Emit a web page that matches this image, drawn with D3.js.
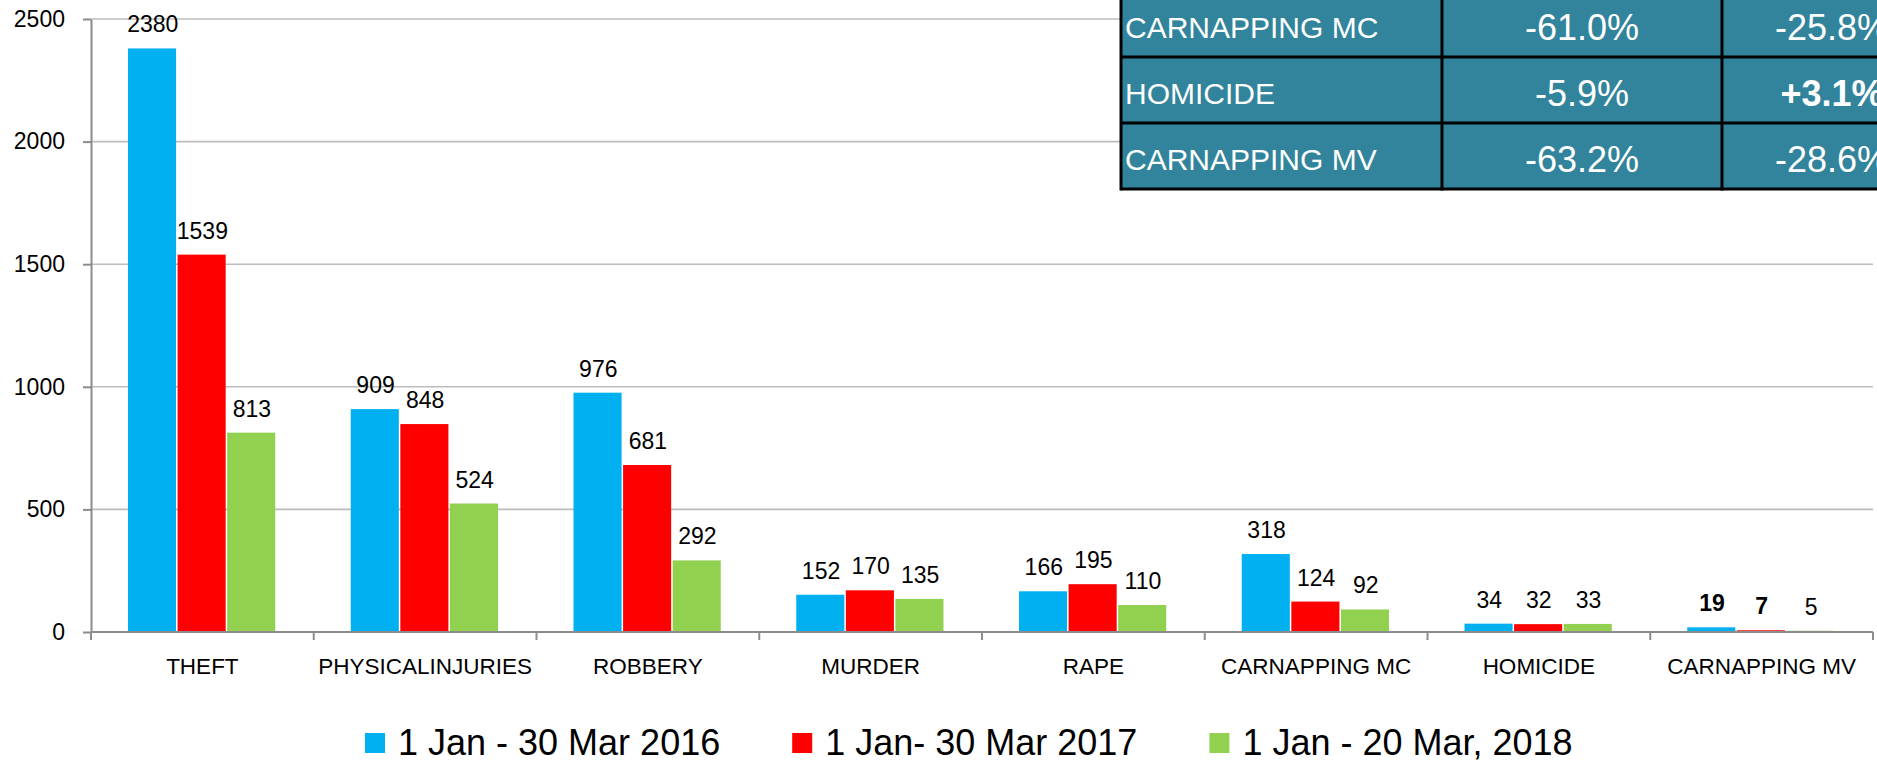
<!DOCTYPE html>
<html>
<head>
<meta charset="utf-8">
<script src="https://cdn.jsdelivr.net/npm/d3@7"></script>
<style>
  html, body { margin: 0; padding: 0; background: #fff; }
  svg { display: block; font-family: "Liberation Sans", Arial, sans-serif; }
</style>
</head>
<body>
<svg id="chart" width="1877" height="763"></svg>
<script>
// ---- data ----
const categories = ["THEFT", "PHYSICALINJURIES", "ROBBERY", "MURDER", "RAPE", "CARNAPPING MC", "HOMICIDE", "CARNAPPING MV"];
const values2016 = [2380, 909, 976, 152, 166, 318, 34, 19];
const values2017 = [1539, 848, 681, 170, 195, 124, 32, 7];
const values2018 = [813, 524, 292, 135, 110, 92, 33, 5];
const seriesNames = ["1 Jan - 30 Mar 2016", "1 Jan- 30 Mar 2017", "1 Jan - 20 Mar, 2018"];
const seriesColors = ["#00b0f0", "#ff0000", "#92d050"];
const yTickValues = [0, 500, 1000, 1500, 2000, 2500];
// labels shown in bold (category, series index)
const boldLabels = [["CARNAPPING MV", 0], ["CARNAPPING MV", 1]];
// inset table
const tableCrimes = ["CARNAPPING MC", "HOMICIDE", "CARNAPPING MV"];
const tableChangeA = ["-61.0%", "-5.9%", "-63.2%"];
const tableChangeB = ["-25.8%", "+3.1%", "-28.6%"];
const tableBold = ["+3.1%"];

(function () {
// ---- layout ----
const svg = d3.select("#chart");
const plotLeft = 91, plotRight = 1873, plotTop = 19, plotBottom = 632;

const x = d3.scaleBand().domain(categories).range([plotLeft, plotRight]).paddingInner(0).paddingOuter(0);
const groupPad = 37;
const xs = d3.scaleBand().domain([0, 1, 2]).range([groupPad, x.bandwidth() - groupPad]).padding(0);
const y = d3.scaleLinear().domain([0, 2500]).range([plotBottom, plotTop]);

const allSeries = [values2016, values2017, values2018];
const rows = [];
categories.forEach((c, i) => {
  allSeries.forEach((s, k) => rows.push({ cat: c, k: k, v: s[i] }));
});

// gridlines
svg.append("g")
  .selectAll("line")
  .data(yTickValues.filter(v => v > 0))
  .join("line")
  .attr("x1", plotLeft).attr("x2", plotRight)
  .attr("y1", d => y(d)).attr("y2", d => y(d))
  .attr("stroke", "#bdbdbd").attr("stroke-width", 1.6);

// y axis
const yAxis = svg.append("g")
  .attr("transform", `translate(${plotLeft},0)`)
  .call(d3.axisLeft(y).tickValues(yTickValues).tickFormat(d3.format("d"))
    .tickSize(8).tickSizeOuter(0).tickPadding(18));
yAxis.select(".domain").attr("stroke", "#8c8c8c").attr("stroke-width", 2);
yAxis.selectAll(".tick line").attr("stroke", "#8c8c8c").attr("stroke-width", 2);
yAxis.selectAll(".tick text")
  .attr("font-size", 23).attr("fill", "#000")
  .attr("font-family", "Liberation Sans, Arial, sans-serif");

// bars
svg.append("g")
  .selectAll("rect")
  .data(rows)
  .join("rect")
  .attr("x", d => x(d.cat) + xs(d.k))
  .attr("width", xs.bandwidth() - 1.5)
  .attr("y", d => y(d.v))
  .attr("height", d => y(0) - y(d.v))
  .attr("fill", d => seriesColors[d.k]);

// value labels
const isBold = d => boldLabels.some(b => b[0] === d.cat && b[1] === d.k);
svg.append("g")
  .selectAll("text")
  .data(rows)
  .join("text")
  .attr("x", d => x(d.cat) + xs(d.k) + xs.bandwidth() / 2)
  .attr("y", d => y(d.v) - 16)
  .attr("text-anchor", "middle")
  .attr("font-size", 23)
  .attr("font-weight", d => isBold(d) ? "bold" : "normal")
  .attr("fill", "#000")
  .text(d => d.v);

// x axis line + boundary ticks
svg.append("line")
  .attr("x1", plotLeft).attr("x2", plotRight)
  .attr("y1", y(0)).attr("y2", y(0))
  .attr("stroke", "#8c8c8c").attr("stroke-width", 2);
const boundaries = categories.map(c => x(c)).concat([x.range()[1]]);
svg.append("g")
  .selectAll("line")
  .data(boundaries)
  .join("line")
  .attr("x1", d => d).attr("x2", d => d)
  .attr("y1", y(0)).attr("y2", y(0) + 8)
  .attr("stroke", "#8c8c8c").attr("stroke-width", 2);

// category labels
svg.append("g")
  .selectAll("text")
  .data(categories)
  .join("text")
  .attr("x", d => x(d) + x.bandwidth() / 2)
  .attr("y", 674)
  .attr("text-anchor", "middle")
  .attr("font-size", 22.5)
  .attr("fill", "#000")
  .text(d => d);

// inset table (clipped by the picture's right edge, as in the original)
const colEdges = [1121, 1442, 1722, 1942];
const rowTop = -9, rowH = 66;
const table = svg.append("g");
const tableData = tableCrimes.map((c, i) => [c, tableChangeA[i], tableChangeB[i]]);
table.append("rect")
  .attr("x", colEdges[0]).attr("y", rowTop)
  .attr("width", colEdges[3] - colEdges[0]).attr("height", rowH * tableData.length)
  .attr("fill", "#31849b");
tableData.forEach((row, r) => {
  const cy = rowTop + rowH * r + rowH / 2;
  row.forEach((cell, c) => {
    const t = table.append("text")
      .attr("fill", "#fff")
      .attr("dominant-baseline", "central")
      .attr("y", cy + 3)
      .text(cell);
    if (c === 0) {
      t.attr("x", colEdges[0] + 4).attr("font-size", 30);
    } else {
      t.attr("x", (colEdges[c] + colEdges[c + 1]) / 2)
        .attr("text-anchor", "middle")
        .attr("font-size", 36)
        .attr("font-weight", tableBold.includes(cell) ? "bold" : "normal");
    }
  });
});
for (let r = 1; r <= tableData.length; r++) {
  table.append("line")
    .attr("x1", colEdges[0]).attr("x2", colEdges[3])
    .attr("y1", rowTop + rowH * r).attr("y2", rowTop + rowH * r)
    .attr("stroke", "#000").attr("stroke-width", 3);
}
colEdges.slice(0, 3).forEach(cx => {
  table.append("line")
    .attr("x1", cx).attr("x2", cx)
    .attr("y1", rowTop).attr("y2", rowTop + rowH * tableData.length + 1.5)
    .attr("stroke", "#000").attr("stroke-width", 3);
});

// legend: items laid out in sequence
const legend = svg.append("g");
let lx = 365;
const itemGap = 72, swatch = 20, swatchGap = 13;
seriesNames.forEach((name, i) => {
  legend.append("rect")
    .attr("x", lx).attr("y", 733)
    .attr("width", swatch).attr("height", swatch)
    .attr("fill", seriesColors[i]);
  const t = legend.append("text")
    .attr("x", lx + swatch + swatchGap).attr("y", 755)
    .attr("font-size", 36)
    .attr("fill", "#000")
    .text(name);
  lx += swatch + swatchGap + t.node().getComputedTextLength() + itemGap;
});
})();
</script>
</body>
</html>
